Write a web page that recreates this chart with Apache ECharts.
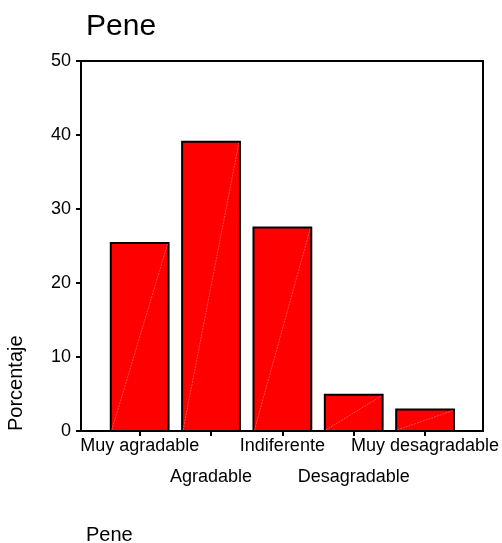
<!DOCTYPE html>
<html>
<head>
<meta charset="utf-8">
<script src="https://cdn.jsdelivr.net/npm/echarts@6/dist/echarts.min.js"></script>
<style>
  html, body { margin: 0; padding: 0; background: #fff; }
  #chart { width: 502px; height: 543px; }
</style>
</head>
<body>
<div id="chart"></div>
<script>
var categories = ['Muy agradable', 'Agradable', 'Indiferente', 'Desagradable', 'Muy desagradable'];
var values = [25.4, 39.1, 27.5, 4.9, 2.9];
var yTicks = [0, 10, 20, 30, 40, 50];

var font = '"Liberation Sans", Arial, sans-serif';
var myChart = echarts.init(document.getElementById('chart'));

var option = {
  animation: false,
  backgroundColor: '#fff',
  title: [{
    text: 'Pene',
    left: 81,
    top: 7,
    textStyle: { fontFamily: font, fontSize: 30, fontWeight: 'normal', color: '#000' }
  }, {
    text: 'Pene',
    left: 81,
    top: 520,
    textStyle: { fontFamily: font, fontSize: 20, fontWeight: 'normal', color: '#000' }
  }],
  graphic: [{
    type: 'text',
    x: 16,
    y: 431,
    rotation: Math.PI / 2,
    style: {
      text: 'Porcentaje',
      font: '20px ' + font,
      fill: '#000',
      align: 'left',
      verticalAlign: 'middle'
    }
  }],
  grid: [
    // frame
    { left: 81, right: 19, top: 61, bottom: 112, show: true, borderColor: '#000', borderWidth: 2, backgroundColor: 'transparent' },
    // bars
    { left: 104, right: 40, top: 61, bottom: 112 }
  ],
  xAxis: [{
    gridIndex: 0, type: 'value', min: 0, max: 1, show: false
  }, {
    gridIndex: 1,
    type: 'category',
    data: categories,
    boundaryGap: true,
    axisLine: { show: false },
    axisTick: { show: true, alignWithLabel: true, length: 5, lineStyle: { color: '#000', width: 2 } },
    axisLabel: {
      interval: 0,
      margin: 0,
      fontFamily: font,
      fontSize: 18,
      lineHeight: 31,
      color: '#000',
      formatter: function (v, i) { return i % 2 === 1 ? '\n' + v : v; }
    }
  }],
  yAxis: [{
    gridIndex: 0,
    type: 'value',
    min: yTicks[0],
    max: yTicks[yTicks.length - 1],
    interval: 10,
    axisLine: { show: true, lineStyle: { color: '#000', width: 2 } },
    axisTick: { show: true, length: 5, lineStyle: { color: '#000', width: 2 } },
    axisLabel: { fontFamily: font, fontSize: 18, color: '#000', margin: 10 },
    splitLine: { show: false }
  }, {
    gridIndex: 1,
    type: 'value',
    min: yTicks[0],
    max: yTicks[yTicks.length - 1],
    show: false
  }],
  series: [{
    type: 'custom',
    xAxisIndex: 1,
    yAxisIndex: 1,
    data: values.map(function (v, i) { return [i, v]; }),
    renderItem: function (params, api) {
      var top = api.coord([api.value(0), api.value(1)]);
      var base = api.coord([api.value(0), 0]);
      var w = api.size([1, 0])[0] * 0.81;
      var x0 = top[0] - w / 2;
      return {
        type: 'group',
        children: [{
          type: 'rect',
          shape: { x: x0, y: top[1], width: w, height: base[1] - top[1] },
          style: { fill: '#ff0000', stroke: '#000', lineWidth: 2 }
        }, {
          type: 'line',
          shape: { x1: x0 + 1, y1: base[1] - 1, x2: x0 + w - 1, y2: top[1] + 1 },
          style: { stroke: '#ff9a9a', lineWidth: 0.5, lineDash: [2, 1] }
        }]
      };
    }
  }]
};
myChart.setOption(option);
</script>
</body>
</html>
